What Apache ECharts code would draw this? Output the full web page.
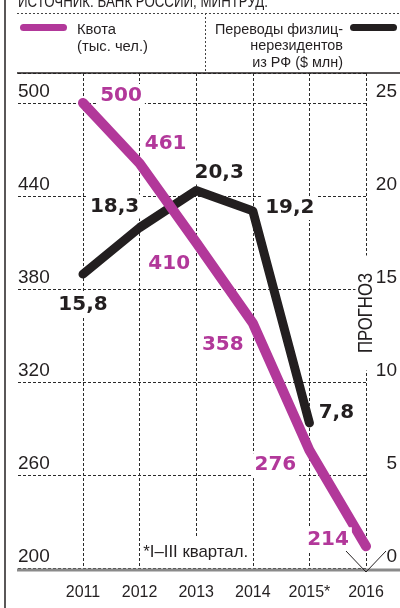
<!DOCTYPE html>
<html>
<head>
<meta charset="utf-8">
<script src="https://cdn.jsdelivr.net/npm/echarts@6/dist/echarts.min.js"></script>
<style>
html, body { margin: 0; padding: 0; background: #fff; }
#chart { width: 400px; height: 608px; }
</style>
</head>
<body>
<div id="chart"></div>
<script>
const years = ['2011', '2012', '2013', '2014', '2015*', '2016'];
const quota = [500, 461, 410, 358, 276, 214];
const transfers = [15.8, 18.3, 20.3, 19.2, 7.8];
const quotaTicks = [200, 260, 320, 380, 440, 500];
const transferTicks = [0, 5, 10, 15, 20, 25];
// where each number sits relative to its point (px)
const quotaOffsets = [[38, -7], [26, -20], [-27, 21], [-30, 22], [-34, 15], [-38, -7]];
const transferOffsets = [[0, 31], [-25, -21], [23, -18], [37, -3], [27, -10]];

const magenta = '#B2389A', ink = '#231F20', dash = '#2a2a2a';
const thin = "'Liberation Sans', Arial, sans-serif";
const heavy = "'DejaVu Sans', sans-serif";

// no narrow face is installed, so squeeze the loose texts to the printed width
const ctx = document.createElement('canvas').getContext('2d');
function squeeze(text, size, width) {
    ctx.font = size + 'px ' + thin;
    return width / ctx.measureText(text).width;
}

let chart = echarts.init(document.getElementById('chart'), null, { renderer: 'canvas' });

// plot area: top line at 73, baseline at 568, top tick (500 / 25) at 103
const plotTop = 73, plotBottom = 568, tickTop = 103;
const qMin = quotaTicks[0], qTop = quotaTicks[quotaTicks.length - 1];
const qMax = qTop + (tickTop - plotTop) * (qTop - qMin) / (plotBottom - tickTop);
const tMin = transferTicks[0], tTop = transferTicks[transferTicks.length - 1];
const tMax = tTop + (tickTop - plotTop) * (tTop - tMin) / (plotBottom - tickTop);

const labelBase = {
    show: true,
    position: 'inside',
    fontFamily: heavy,
    fontWeight: 'bold',
    fontSize: 20,
    backgroundColor: '#fff',
    padding: [2, 3],
    formatter: p => String(p.value).replace('.', ',')
};

let option = {
    animation: false,
    grid: [
        { left: 83, right: 34, top: plotTop, bottom: 608 - plotBottom },
        { left: 18, right: 34, top: plotTop, bottom: 608 - plotBottom }
    ],
    xAxis: [
        {
            type: 'category',
            gridIndex: 0,
            boundaryGap: false,
            data: years,
            axisLine: { show: false },
            axisTick: { show: false },
            axisLabel: { interval: 0, fontFamily: thin, fontSize: 16, color: ink, margin: 17 },
            splitLine: { show: true, interval: 0, lineStyle: { color: dash, width: 1, type: [3, 2] } }
        },
        { type: 'value', gridIndex: 1, show: false }
    ],
    yAxis: [
        { type: 'value', gridIndex: 0, min: qMin, max: qMax, interval: 60, show: false },
        {
            type: 'value',
            gridIndex: 0,
            position: 'right',
            min: tMin,
            max: tMax,
            interval: 5,
            axisLine: { show: false },
            axisTick: { show: false },
            splitLine: { show: false },
            axisLabel: {
                showMaxLabel: false,
                fontFamily: thin, fontSize: 19, color: ink,
                align: 'right', margin: 31, verticalAlign: 'bottom', padding: [0, 0, 2, 0],
                formatter: v => transferTicks.includes(v) ? String(v) : ''
            }
        },
        {
            type: 'value',
            gridIndex: 1,
            min: qMin,
            max: qMax,
            interval: 60,
            axisLine: { show: false },
            axisTick: { show: false },
            splitLine: { show: true, lineStyle: { color: dash, width: 1, type: [3, 2] } },
            axisLabel: {
                inside: true,
                showMaxLabel: false,
                fontFamily: thin, fontSize: 19, color: ink,
                margin: 0, verticalAlign: 'bottom', padding: [0, 0, 2, 0],
                formatter: v => quotaTicks.includes(v) ? String(v) : ''
            }
        }
    ],
    series: [
        {
            name: 'Переводы физлиц-нерезидентов из РФ ($ млн)',
            type: 'line',
            xAxisIndex: 0,
            yAxisIndex: 1,
            symbol: 'circle',
            symbolSize: 2,
            itemStyle: { color: ink },
            lineStyle: { color: ink, width: 9, cap: 'round', join: 'round' },
            label: Object.assign({}, labelBase, { color: ink }),
            z: 3,
            data: transfers.map((v, i) => ({ value: v, label: { offset: transferOffsets[i] } }))
        },
        {
            name: 'Квота (тыс. чел.)',
            type: 'line',
            xAxisIndex: 0,
            yAxisIndex: 0,
            symbol: 'circle',
            symbolSize: 2,
            itemStyle: { color: magenta },
            lineStyle: { color: magenta, width: 10, cap: 'round', join: 'round' },
            label: Object.assign({}, labelBase, { color: magenta }),
            z: 4,
            data: quota.map((v, i) => ({ value: v, label: { offset: quotaOffsets[i] } }))
        }
    ]
};

chart.setOption(option);

// forecast marker and notes, placed from the axis scales
const p16 = chart.convertToPixel({ xAxisIndex: 0, yAxisIndex: 0 }, [years[5], qMin]);
const p13 = chart.convertToPixel({ xAxisIndex: 0, yAxisIndex: 0 }, [years[2], qMin]);

const sourceText = 'ИСТОЧНИК: БАНК РОССИИ, МИНТРУД.';
const quotaName = 'Квота\n(тыс. чел.)';
const transferName = 'Переводы физлиц-\nнерезидентов\nиз РФ ($ млн)';
const forecastText = 'ПРОГНОЗ';
const noteText = '*I–III квартал.';

chart.setOption({
    graphic: [
        // frame
        { type: 'line', z: 50, shape: { x1: 5, y1: 0, x2: 5, y2: 608 }, style: { stroke: ink, lineWidth: 1.5 } },
        { type: 'line', z: 50, shape: { x1: 17, y1: 13.5, x2: 400, y2: 13.5 }, style: { stroke: '#444', lineWidth: 1, lineDash: [2, 2] } },
        { type: 'line', z: 50, shape: { x1: 205.5, y1: 13, x2: 205.5, y2: 72 }, style: { stroke: '#444', lineWidth: 1, lineDash: [2, 2] } },
        { type: 'line', z: 50, shape: { x1: 17, y1: plotTop, x2: 400, y2: plotTop }, style: { stroke: ink, lineWidth: 1.5 } },
        { type: 'line', z: 50, shape: { x1: 17, y1: plotBottom + 2, x2: 400, y2: plotBottom + 2 }, style: { stroke: '#8a8a8a', lineWidth: 3 } },
        // source line, cut by the top of the picture
        {
            type: 'text', z: 50, x: 18, y: 11, scaleX: squeeze(sourceText, 16, 250),
            style: { text: sourceText, fontFamily: thin, fontSize: 16, fill: ink, verticalAlign: 'bottom' }
        },
        // legend
        { type: 'rect', z: 50, shape: { x: 20, y: 24, width: 47, height: 7, r: 3.5 }, style: { fill: magenta } },
        {
            type: 'text', z: 50, x: 77, y: 21, scaleX: squeeze('(тыс. чел.)', 15.5, 71),
            style: { text: quotaName, fontFamily: thin, fontSize: 15.5, lineHeight: 17, fill: ink }
        },
        {
            type: 'text', z: 50, x: 343, y: 21, scaleX: squeeze('Переводы физлиц-', 15.5, 128),
            style: { text: transferName, fontFamily: thin, fontSize: 15.5, lineHeight: 16.5, fill: ink, align: 'right' }
        },
        { type: 'rect', z: 50, shape: { x: 350, y: 24, width: 47, height: 7, r: 3.5 }, style: { fill: ink } },
        // forecast
        {
            type: 'text', z: 50, x: p16[0], y: 313, rotation: Math.PI / 2, scaleX: squeeze(forecastText, 21, 80),
            style: { text: forecastText, fontFamily: thin, fontSize: 21, fill: ink, align: 'center', verticalAlign: 'middle', backgroundColor: '#fff', padding: [0, 22] }
        },
        {
            type: 'polyline', z: 50,
            shape: { points: [[p16[0] - 20, p16[1] - 17], [p16[0], p16[1] + 4], [p16[0] + 20, p16[1] - 17]] },
            style: { stroke: ink, lineWidth: 1, fill: null }
        },
        {
            type: 'text', z: 50, x: p13[0] - 54, y: p13[1] - 16, scaleX: squeeze(noteText, 17, 105),
            style: { text: noteText, fontFamily: thin, fontSize: 17, fill: ink, verticalAlign: 'middle', backgroundColor: '#fff', padding: [12, 1, 2, 1] }
        }
    ]
});
</script>
</body>
</html>
